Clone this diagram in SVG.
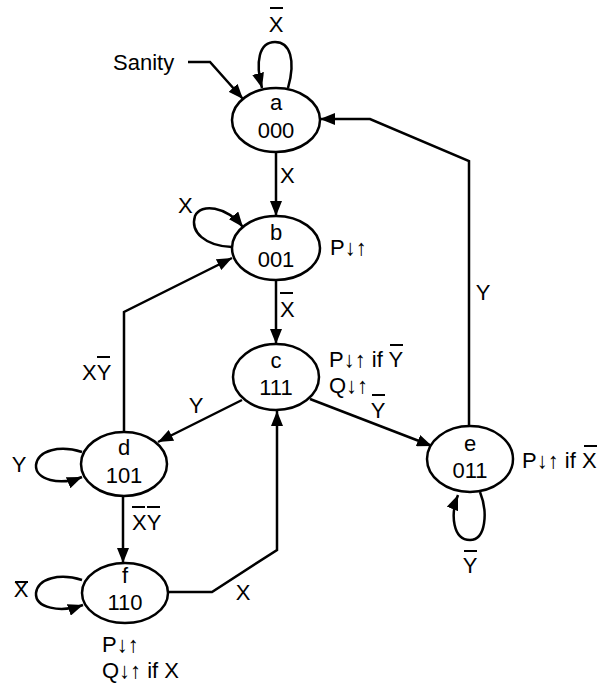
<svg xmlns="http://www.w3.org/2000/svg" width="615" height="686" viewBox="0 0 615 686">
<defs>
<style>
.t{font-family:"Liberation Sans",Arial,sans-serif;font-size:22px;fill:#000}
.m{text-anchor:middle}
.e{fill:#fff;stroke:#000;stroke-width:2.5}
.c{fill:none;stroke:#000;stroke-width:2.5;stroke-linejoin:miter}
.a{marker-end:url(#ah)}
.bar{stroke:#000;stroke-width:2}
</style>
<marker id="ah" markerUnits="userSpaceOnUse" markerWidth="16" markerHeight="12" refX="15" refY="6" orient="auto">
<path d="M0,0 L15,6 L0,12 z" fill="#000"/>
</marker>
</defs>
<rect width="615" height="686" fill="#fff"/>
<g id="connectors">
<path class="c" d="M188,62 L210,62 L243,99" marker-end="url(#ah)"/>
<path class="c a" d="M288,88 C296,60 290,42 275,42 C259,42 255,62 262,88"/>
<path class="c a" d="M276,152 L276,216"/>
<path class="c a" d="M232,247 C205,246 190,232 195,216 C201,203 226,206 243,227"/>
<path class="c a" d="M276,280 L276,344"/>
<path class="c a" d="M124,432 L124,312 L232,258"/>
<path class="c a" d="M242,400 L158,442"/>
<path class="c a" d="M310,399 L432,446"/>
<path class="c a" d="M469,426 L469,161 L370,119 L320,119"/>
<path class="c a" d="M480,492 C488,512 486,540 470,540 C453,540 450,515 458,495"/>
<path class="c a" d="M82,452 C60,445 38,450 36,465 C35,480 60,486 82,477"/>
<path class="c a" d="M123,497 L123,563"/>
<path class="c a" d="M82,580 C60,573 38,578 36,593 C35,608 60,613 83,605"/>
<path class="c a" d="M168,592 L212,592 L277,550 L277,411"/>
</g>
<g id="node-a">
<ellipse class="e" cx="276" cy="120" rx="44" ry="32"/>
<text class="t m" x="276" y="110">a</text>
<text class="t m" x="276" y="138">000</text>
</g>
<g id="node-b">
<ellipse class="e" cx="276" cy="248" rx="44" ry="32"/>
<text class="t m" x="276" y="240">b</text>
<text class="t m" x="276" y="267">001</text>
</g>
<g id="node-c">
<ellipse class="e" cx="276" cy="377" rx="43" ry="33"/>
<text class="t m" x="276" y="368">c</text>
<text class="t m" x="276" y="395">111</text>
</g>
<g id="node-d">
<ellipse class="e" cx="124" cy="464" rx="43" ry="32"/>
<text class="t m" x="124" y="455">d</text>
<text class="t m" x="124" y="483">101</text>
</g>
<g id="node-e">
<ellipse class="e" cx="470" cy="459" rx="43" ry="33"/>
<text class="t m" x="470" y="451">e</text>
<text class="t m" x="470" y="478">011</text>
</g>
<g id="node-f">
<ellipse class="e" cx="125" cy="593" rx="43" ry="30"/>
<text class="t m" x="125" y="583">f</text>
<text class="t m" x="125" y="610">110</text>
</g>
<g id="labels">
<text class="t" x="113" y="70">Sanity</text>
<text class="t m" x="276" y="32">X</text><line class="bar" x1="270" y1="8" x2="283" y2="8"/>
<text class="t" x="280" y="183">X</text>
<text class="t" x="178" y="213">X</text>
<text class="t" x="330" y="255">P↓↑</text>
<text class="t" x="280" y="317">X</text><line class="bar" x1="280" y1="293" x2="293" y2="293"/>
<text class="t" x="82" y="380">XY</text><line class="bar" x1="97" y1="357" x2="110" y2="357"/>
<text class="t" x="329" y="367">P↓↑ if Y</text><line class="bar" x1="390" y1="345" x2="403" y2="345"/>
<text class="t" x="329" y="393">Q↓↑</text>
<text class="t m" x="196" y="413">Y</text>
<text class="t m" x="378" y="418">Y</text><line class="bar" x1="372" y1="395" x2="385" y2="395"/>
<text class="t m" x="483" y="300">Y</text>
<text class="t" x="522" y="468">P↓↑ if X</text><line class="bar" x1="584" y1="446" x2="597" y2="446"/>
<text class="t m" x="470" y="573">Y</text><line class="bar" x1="464" y1="551" x2="477" y2="551"/>
<text class="t m" x="19" y="472">Y</text>
<text class="t" x="132" y="530">XY</text><line class="bar" x1="132" y1="507" x2="145" y2="507"/><line class="bar" x1="147" y1="507" x2="160" y2="507"/>
<text class="t m" x="21" y="597">X</text><line class="bar" x1="15" y1="582" x2="28" y2="582"/>
<text class="t m" x="243" y="600">X</text>
<text class="t" x="102" y="652">P↓↑</text>
<text class="t" x="102" y="678">Q↓↑ if X</text>
</g>
</svg>
